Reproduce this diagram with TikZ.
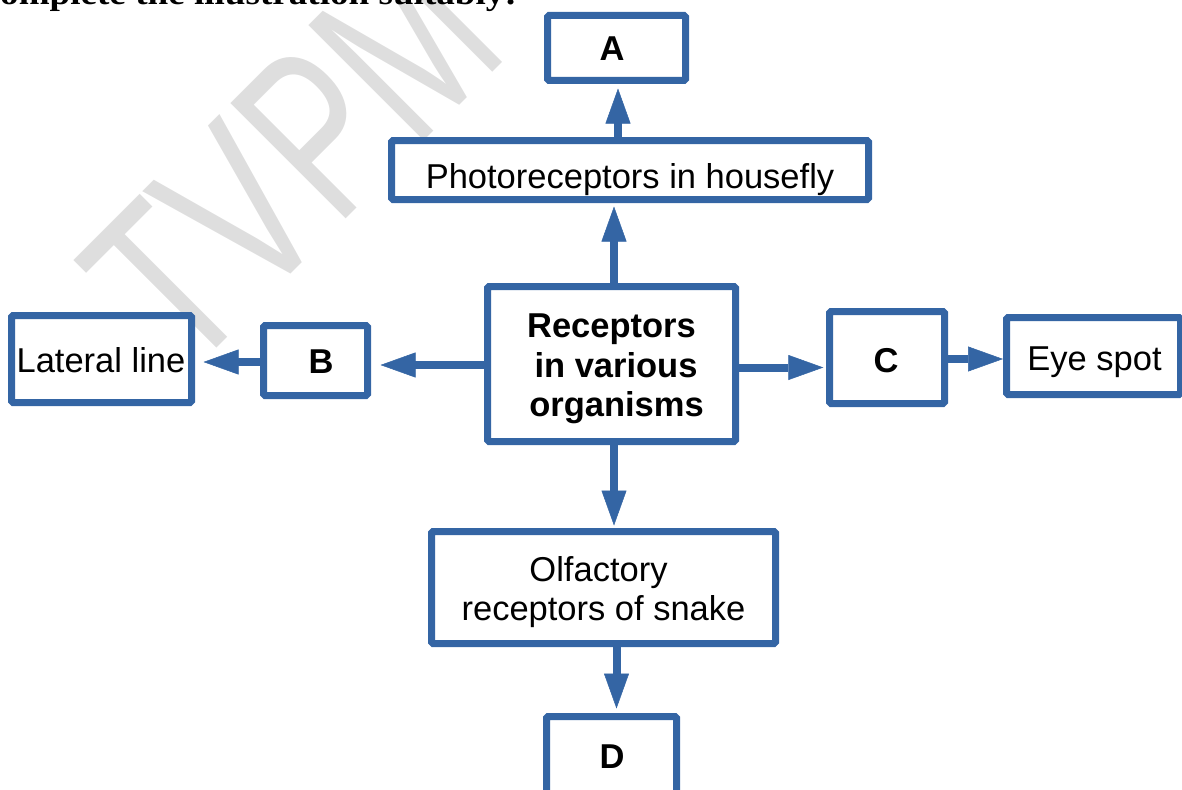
\documentclass[tikz,border=0pt]{standalone}
\usepackage{fontspec}
\setmainfont{Liberation Sans}
\newfontfamily\titlefont{Liberation Serif}
\usepackage{graphicx}
\usetikzlibrary{arrows.meta}
\definecolor{bxblue}{HTML}{3465A4}
\definecolor{wmgrey}{HTML}{DEDEDE}
\tikzset{
  box/.style={draw=bxblue, line width=7pt, fill=white, rounded corners=1.5pt, inner sep=0pt, rectangle},
  txt/.style={inner sep=0pt, anchor=base, font=\fontsize{34.5}{40}\selectfont},
  btxt/.style={inner sep=0pt, anchor=base, font=\fontsize{34.5}{40}\selectfont\bfseries},
  arr/.style={draw=bxblue, line width=8pt, -{Triangle[length=35pt,width=25pt,line width=0.5pt]}},
}
\begin{document}
\begin{tikzpicture}[x=1pt,y=-1pt]
\useasboundingbox (0,0) rectangle (1182,789);
% watermark
\node[inner sep=0pt, anchor=base west, rotate=45, text=wmgrey] (wm) at (186,379)
  {\scalebox{0.70}[1]{\fontsize{237}{237}\selectfont TVPM}};
% title (clipped)
\node[inner sep=0pt, anchor=base west, font=\titlefont\bfseries\fontsize{33}{33}\selectfont] (title) at (0,5)
  {\scalebox{1.125}[1]{omplete the illustration suitably:}};
% boxes
\node[box, minimum width=138pt, minimum height=65pt] (A) at (616.5,48) {};
\node[box, minimum width=477pt, minimum height=59pt] (photo) at (630,170) {};
\node[box, minimum width=248pt, minimum height=155pt] (central) at (611.5,364) {};
\node[box, minimum width=104pt, minimum height=70pt] (B) at (315.5,360.5) {};
\node[box, minimum width=180pt, minimum height=87pt] (lat) at (101.5,359) {};
\node[box, minimum width=115pt, minimum height=92pt] (C) at (887,357.5) {};
\node[box, minimum width=174pt, minimum height=77pt] (eye) at (1093.5,356) {};
\node[box, minimum width=344pt, minimum height=112pt] (olf) at (603.5,587.5) {};
\node[box, minimum width=130pt, minimum height=80pt] (D) at (611.5,756.5) {};
% texts
\node[btxt] (tA) at (612,61) {A};
\node[txt] (tphoto) at (630,188) {Photoreceptors in housefly};
\node[btxt] (tc1) at (611.5,337) {Receptors};
\node[btxt] (tc2) at (616,377) {in various};
\node[btxt] (tc3) at (616.5,416) {organisms};
\node[btxt] (tB) at (321,373) {B};
\node[txt] (tlat) at (101,372) {Lateral line};
\node[btxt] (tC) at (886,372) {C};
\node[txt] (teye) at (1094.5,370) {Eye spot};
\node[txt] (tolf1) at (598.5,581) {Olfactory};
\node[txt] (tolf2) at (603.5,620) {receptors of snake};
\node[btxt] (tD) at (612,768) {D};
% connector rows/columns
\coordinate (rowB) at (0,365);
\coordinate (rowL) at (0,362);
\coordinate (rowC) at (0,367.5);
\coordinate (rowE) at (0,359);
\coordinate (colP) at (614,0);
\coordinate (colA) at (618,0);
\coordinate (colO) at (614,0);
\coordinate (colD) at (616.5,0);
% arrows
\draw[arr, shorten >=3.5pt] (central.north -| colP) -- (photo.south -| colP);
\draw[arr, shorten >=4.5pt] (photo.north -| colA) -- (A.south -| colA);
\draw[arr, shorten >=9.5pt] (central.west |- rowB) -- (B.east |- rowB);
\draw[arr, shorten >=8.5pt] (B.west |- rowL) -- (lat.east |- rowL);
\draw[arr, shorten >=2.7pt] (central.east |- rowC) -- (C.west |- rowC);
\draw[arr] (C.east |- rowE) -- (eye.west |- rowE);
\draw[arr, shorten >=2.5pt] (central.south -| colO) -- (olf.north -| colO);
\draw[arr, shorten >=4.5pt] (olf.south -| colD) -- (D.north -| colD);
\end{tikzpicture}
\end{document}
